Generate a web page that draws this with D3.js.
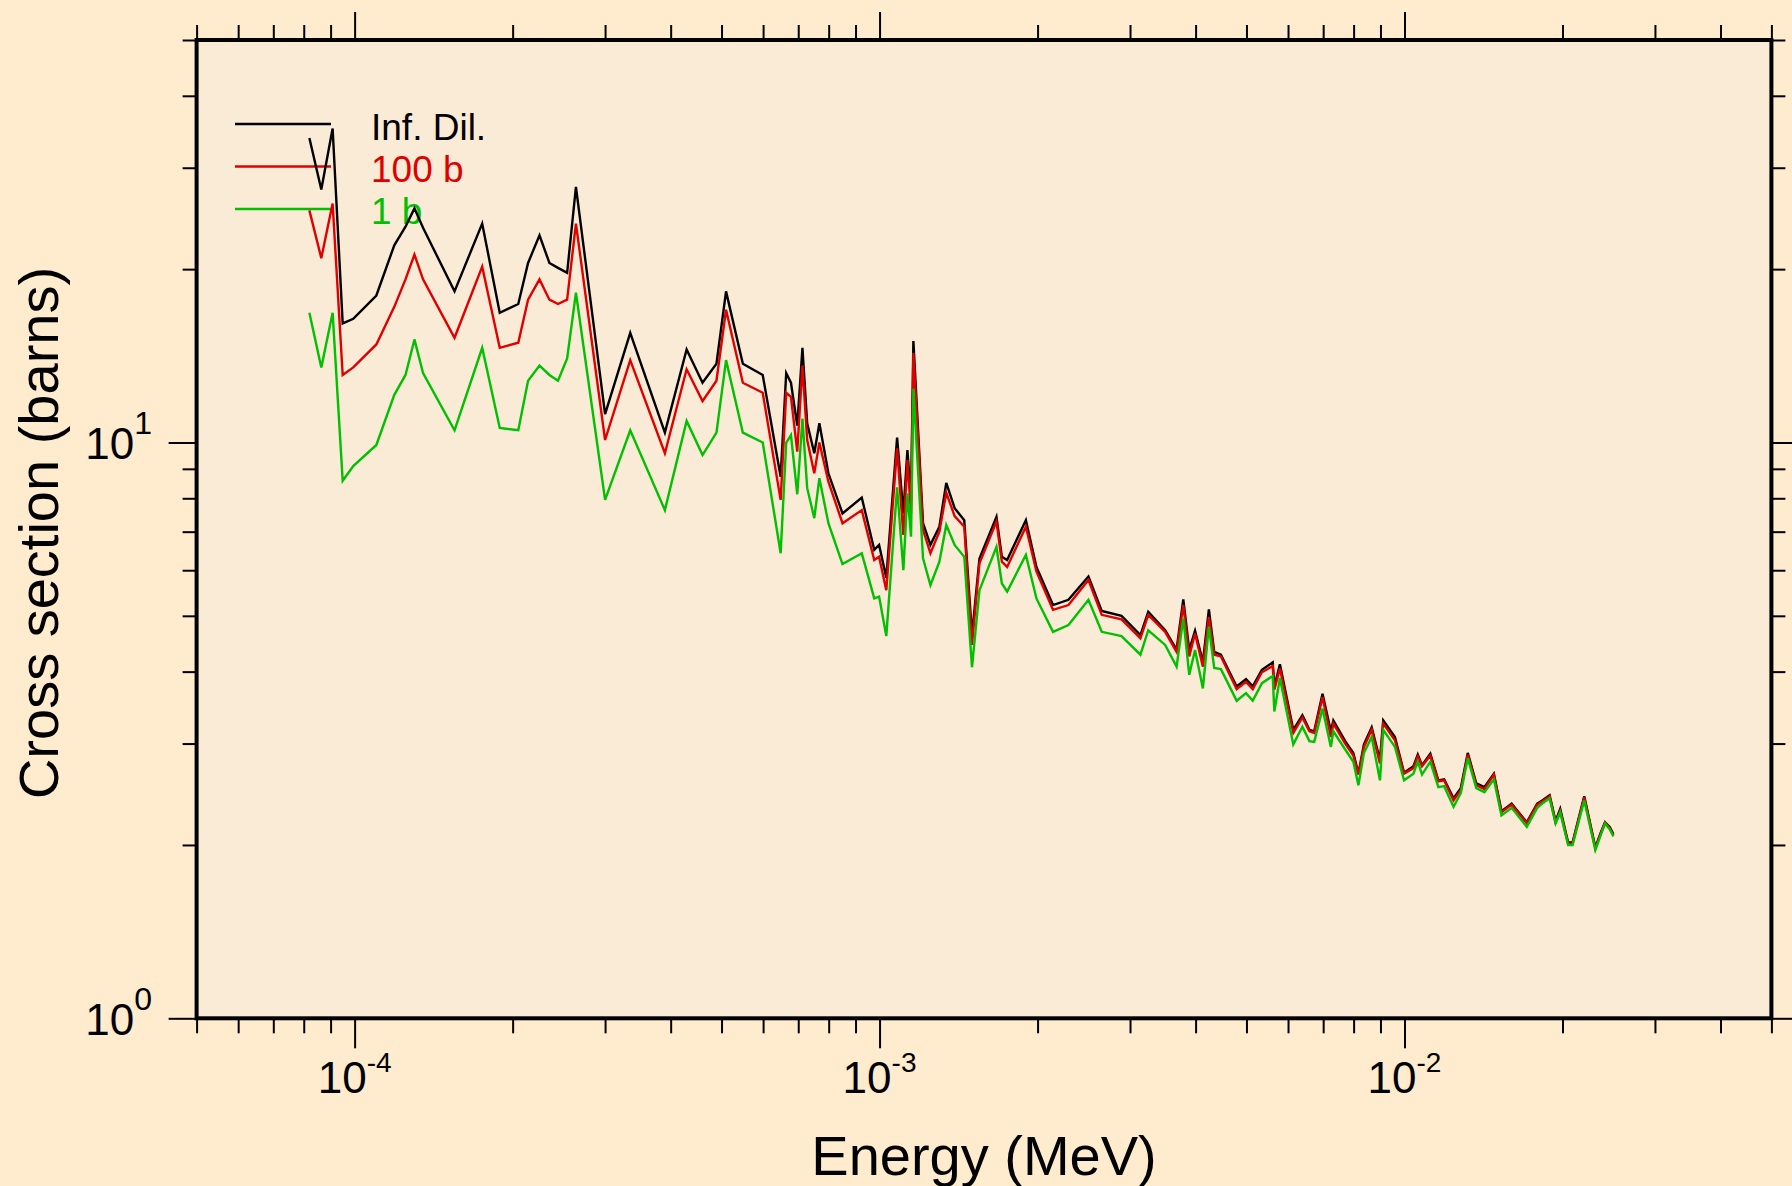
<!DOCTYPE html>
<html>
<head>
<meta charset="utf-8">
<title>Cross section vs energy</title>
<style>
  body { margin: 0; background: #ffebcd; }
  svg { display: block; font-family: "Liberation Sans", Arial, sans-serif; }
  .axis path.domain { display: none; }
  .axis line { stroke: #000; stroke-width: 2; }
</style>
</head>
<body>
<div class="drawing"></div>
<script src="https://d3js.org/d3.v7.min.js"></script>
<script>
// energies (MeV), shared by the three curves
var energy = [8.20e-5, 8.64e-5, 9.08e-5, 9.49e-5, 9.94e-5, 1.10e-4, 1.19e-4, 1.25e-4, 1.30e-4, 1.35e-4,
  1.55e-4, 1.75e-4, 1.89e-4, 2.05e-4, 2.14e-4, 2.25e-4, 2.35e-4, 2.44e-4, 2.54e-4, 2.64e-4,
  3.00e-4, 3.35e-4, 3.90e-4, 4.29e-4, 4.60e-4, 4.89e-4, 5.10e-4, 5.49e-4, 5.99e-4, 6.48e-4,
  6.64e-4, 6.78e-4, 6.97e-4, 7.13e-4, 7.28e-4, 7.51e-4, 7.68e-4, 7.99e-4, 8.50e-4, 9.25e-4,
  9.77e-4, 9.98e-4, 1.03e-3, 1.08e-3, 1.11e-3, 1.13e-3, 1.148e-3, 1.16e-3, 1.21e-3, 1.25e-3,
  1.30e-3, 1.34e-3, 1.39e-3, 1.45e-3, 1.50e-3, 1.55e-3, 1.67e-3, 1.71e-3, 1.75e-3, 1.90e-3,
  1.99e-3, 2.14e-3, 2.29e-3, 2.50e-3, 2.65e-3, 2.89e-3, 3.14e-3, 3.25e-3, 3.50e-3, 3.68e-3,
  3.79e-3, 3.89e-3, 3.99e-3, 4.13e-3, 4.24e-3, 4.34e-3, 4.47e-3, 4.79e-3, 4.99e-3, 5.14e-3,
  5.35e-3, 5.61e-3, 5.65e-3, 5.79e-3, 6.14e-3, 6.39e-3, 6.59e-3, 6.73e-3, 6.98e-3, 7.24e-3,
  7.32e-3, 7.71e-3, 7.99e-3, 8.17e-3, 8.37e-3, 8.66e-3, 8.98e-3, 9.11e-3, 9.59e-3, 9.98e-3,
  1.04e-2, 1.06e-2, 1.08e-2, 1.12e-2, 1.16e-2, 1.19e-2, 1.24e-2, 1.28e-2, 1.32e-2, 1.37e-2,
  1.42e-2, 1.48e-2, 1.53e-2, 1.60e-2, 1.71e-2, 1.79e-2, 1.83e-2, 1.89e-2, 1.94e-2, 1.98e-2,
  2.05e-2, 2.09e-2, 2.20e-2, 2.31e-2, 2.36e-2, 2.41e-2, 2.46e-2, 2.50e-2];

var infDil = [33.8, 27.5, 35.1, 16.1, 16.4, 18.0, 22.0, 23.7, 25.5, 23.6,
  18.3, 24.0, 16.8, 17.4, 20.5, 22.9, 20.5, 20.1, 19.7, 27.8,
  11.2, 15.5, 10.4, 14.5, 12.7, 13.7, 18.3, 13.7, 13.1, 8.72,
  13.2, 12.7, 10.7, 14.6, 10.8, 9.58, 10.8, 8.84, 7.53, 8.02,
  6.51, 6.64, 5.82, 10.2, 7.53, 9.70, 7.95, 15.0, 7.24, 6.64,
  7.14, 8.51, 7.69, 7.33, 4.63, 6.29, 7.43, 6.33, 6.25, 7.33,
  6.08, 5.22, 5.33, 5.85, 5.10, 5.00, 4.63, 5.08, 4.72, 4.37,
  5.34, 4.36, 4.71, 4.16, 5.13, 4.33, 4.28, 3.77, 3.88, 3.77,
  4.03, 4.15, 3.77, 4.12, 3.17, 3.36, 3.17, 3.15, 3.66, 3.15,
  3.29, 3.03, 2.89, 2.66, 2.99, 3.20, 2.81, 3.29, 3.08, 2.67,
  2.74, 2.87, 2.75, 2.88, 2.59, 2.60, 2.41, 2.51, 2.89, 2.56,
  2.52, 2.66, 2.29, 2.36, 2.19, 2.36, 2.39, 2.44, 2.20, 2.31,
  2.02, 2.02, 2.43, 1.98, 2.09, 2.19, 2.15, 2.09];

var b100 = [25.3, 20.9, 26.0, 13.1, 13.5, 14.8, 17.2, 19.2, 21.2, 19.2,
  15.2, 20.2, 14.6, 14.9, 17.7, 19.2, 17.7, 17.4, 17.7, 24.0,
  10.1, 13.9, 9.58, 13.4, 11.8, 12.8, 17.0, 12.7, 12.2, 7.95,
  12.2, 12.0, 9.64, 13.6, 10.1, 8.84, 10.0, 8.55, 7.24, 7.63,
  6.25, 6.33, 5.54, 9.77, 6.91, 9.32, 7.54, 14.3, 7.05, 6.42,
  7.00, 8.18, 7.45, 7.14, 4.45, 6.17, 7.29, 6.21, 6.08, 7.14,
  5.97, 5.12, 5.22, 5.77, 5.02, 4.93, 4.57, 5.02, 4.69, 4.33,
  5.22, 4.25, 4.66, 4.08, 4.98, 4.28, 4.25, 3.73, 3.84, 3.73,
  3.99, 4.09, 3.72, 4.05, 3.13, 3.33, 3.15, 3.13, 3.61, 3.08,
  3.25, 3.00, 2.86, 2.65, 2.96, 3.17, 2.77, 3.25, 3.04, 2.66,
  2.72, 2.85, 2.74, 2.86, 2.58, 2.59, 2.39, 2.49, 2.87, 2.54,
  2.50, 2.65, 2.28, 2.35, 2.18, 2.35, 2.38, 2.43, 2.19, 2.29,
  2.01, 2.01, 2.42, 1.97, 2.08, 2.19, 2.14, 2.08];

var b1 = [16.8, 13.5, 16.8, 8.58, 9.10, 9.90, 12.1, 13.1, 15.1, 13.2,
  10.5, 14.6, 10.6, 10.5, 12.8, 13.6, 13.1, 12.8, 14.0, 18.2,
  7.95, 10.5, 7.63, 10.9, 9.51, 10.4, 13.9, 10.4, 10.0, 6.42,
  9.99, 10.3, 8.13, 11.0, 8.33, 7.39, 8.67, 7.24, 6.15, 6.42,
  5.36, 5.40, 4.61, 8.36, 6.00, 8.16, 6.86, 12.4, 6.29, 5.65,
  6.21, 7.19, 6.64, 6.33, 4.07, 5.54, 6.59, 5.69, 5.51, 6.38,
  5.36, 4.69, 4.82, 5.33, 4.69, 4.61, 4.28, 4.72, 4.45, 4.08,
  4.95, 3.95, 4.36, 3.74, 4.79, 4.06, 4.04, 3.56, 3.67, 3.56,
  3.82, 3.93, 3.41, 3.90, 2.99, 3.21, 3.03, 3.02, 3.45, 2.96,
  3.15, 2.93, 2.79, 2.54, 2.89, 3.08, 2.59, 3.17, 2.96, 2.59,
  2.66, 2.79, 2.65, 2.79, 2.52, 2.53, 2.33, 2.46, 2.83, 2.51,
  2.47, 2.60, 2.25, 2.32, 2.15, 2.32, 2.36, 2.41, 2.18, 2.28,
  2.00, 2.00, 2.39, 1.96, 2.07, 2.18, 2.13, 2.07];

var seriesNames = ["Inf. Dil.", "100 b", "1 b"];
var seriesColors = ["#000000", "#e00000", "#00c000"];

// tick labels: mantissa 10 with exponent
var xMajor = [1e-4, 1e-3, 1e-2];
var xExp = ["-4", "-3", "-2"];
var yMajor = [1, 10];
var yExp = ["0", "1"];

var w = 1792, h = 1186;
var pLeft = 196.6, pRight = 1771.4, pTop = 40, pBottom = 1018.3;

var SVG = d3.select("div.drawing").append("svg")
  .attr("width", w)
  .attr("height", h);

SVG.append("rect").attr("width", w).attr("height", h).attr("fill", "#ffebcd");

var x = d3.scaleLog().domain([5e-5, 5e-2]).range([pLeft, pRight]);
var y = d3.scaleLog().domain([1, 50]).range([pBottom, pTop]);

function isMajor(list, v) {
  return list.some(function(m) { return Math.abs(m - v) / m < 1e-6; });
}
var xMinor = x.ticks().filter(function(v) { return !isMajor(xMajor, v); });
var yMinor = y.ticks().filter(function(v) { return !isMajor(yMajor, v); });

/* plot area */
SVG.append("rect")
  .attr("x", pLeft).attr("y", pTop)
  .attr("width", pRight - pLeft).attr("height", pBottom - pTop)
  .attr("fill", "#faebd7");

/* ticks, all outward */
function addAxis(axis, tx, ty) {
  SVG.append("g").attr("class", "axis")
    .attr("transform", "translate(" + tx + "," + ty + ")")
    .call(axis);
}
addAxis(d3.axisBottom(x).tickValues(xMinor).tickSize(15).tickFormat(""), 0, pBottom);
addAxis(d3.axisBottom(x).tickValues(xMajor).tickSize(30).tickFormat(""), 0, pBottom);
addAxis(d3.axisTop(x).tickValues(xMinor).tickSize(15).tickFormat(""), 0, pTop);
addAxis(d3.axisTop(x).tickValues(xMajor).tickSize(28).tickFormat(""), 0, pTop);
addAxis(d3.axisLeft(y).tickValues(yMinor).tickSize(14).tickFormat(""), pLeft, 0);
addAxis(d3.axisLeft(y).tickValues(yMajor).tickSize(28).tickFormat(""), pLeft, 0);
addAxis(d3.axisRight(y).tickValues(yMinor).tickSize(14).tickFormat(""), pRight, 0);
addAxis(d3.axisRight(y).tickValues(yMajor).tickSize(28).tickFormat(""), pRight, 0);

/* legend */
var legend = SVG.append("g");
seriesNames.forEach(function(name, i) {
  legend.append("line")
    .attr("x1", 235).attr("x2", 331)
    .attr("y1", 124 + 42.5 * i).attr("y2", 124 + 42.5 * i)
    .attr("stroke", seriesColors[i]).attr("stroke-width", 2.3);
  legend.append("text")
    .attr("x", 371).attr("y", 140 + 42 * i)
    .attr("font-size", 37)
    .attr("fill", seriesColors[i])
    .text(name);
});

/* curves */
var line = d3.line()
  .x(function(d, i) { return x(energy[i]); })
  .y(function(d) { return y(d); });

[infDil, b100, b1].forEach(function(s, i) {
  SVG.append("path")
    .attr("d", line(s))
    .attr("fill", "none")
    .attr("stroke", seriesColors[i])
    .attr("stroke-width", 2.4)
    .attr("stroke-linejoin", "miter");
});

/* frame */
SVG.append("rect")
  .attr("x", pLeft).attr("y", pTop)
  .attr("width", pRight - pLeft).attr("height", pBottom - pTop)
  .attr("fill", "none").attr("stroke", "#000").attr("stroke-width", 4);

/* tick labels */
xMajor.forEach(function(v, i) {
  var t = SVG.append("text")
    .attr("x", x(v)).attr("y", 1093)
    .attr("text-anchor", "middle");
  t.append("tspan").attr("font-size", 44).text("10");
  t.append("tspan").attr("font-size", 28).attr("dy", -21).text(xExp[i]);
});
yMajor.forEach(function(v, i) {
  var t = SVG.append("text")
    .attr("x", 152).attr("y", y(v) + 17)
    .attr("text-anchor", "end");
  t.append("tspan").attr("font-size", 44).text("10");
  t.append("tspan").attr("font-size", 32).attr("dy", -25).text(yExp[i]);
});

/* axis titles */
SVG.append("text")
  .attr("x", (pLeft + pRight) / 2).attr("y", 1175)
  .attr("text-anchor", "middle").attr("font-size", 56)
  .text("Energy (MeV)");
SVG.append("text")
  .attr("transform", "translate(58,533) rotate(-90)")
  .attr("text-anchor", "middle").attr("font-size", 56)
  .text("Cross section (barns)");
</script>
</body>
</html>
